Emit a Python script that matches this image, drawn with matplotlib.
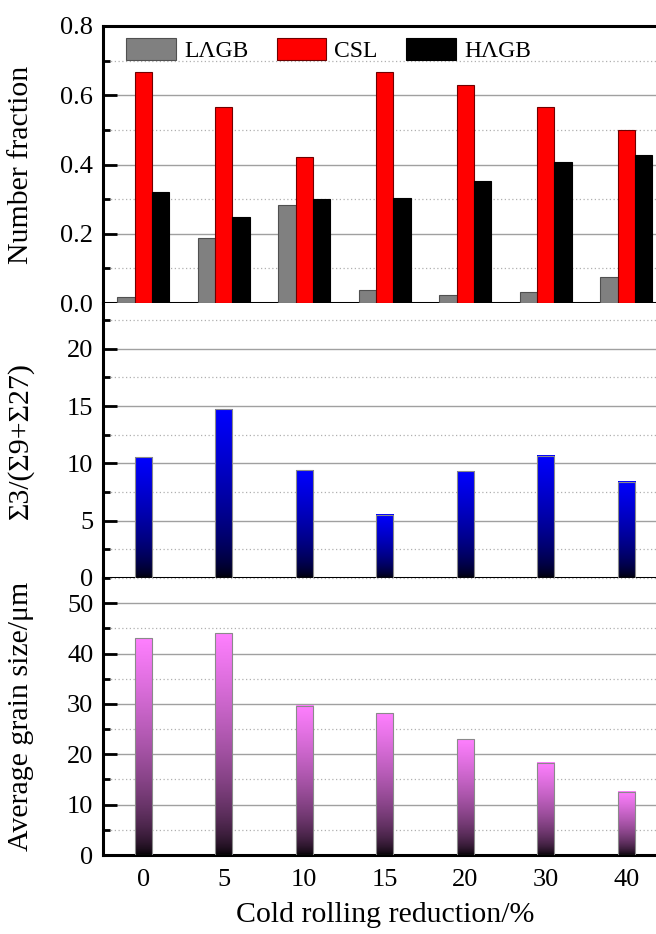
import numpy as np
import matplotlib
matplotlib.use("Agg")
import matplotlib.pyplot as plt
from matplotlib.ticker import MultipleLocator

plt.rcParams['font.family'] = ['Liberation Serif', 'DejaVu Serif']

# data
reduction = ['0', '5', '10', '15', '20', '30', '40']
lagb = [0.018, 0.188, 0.282, 0.038, 0.023, 0.031, 0.075]
csl = [0.668, 0.567, 0.423, 0.667, 0.631, 0.565, 0.500]
hagb = [0.322, 0.249, 0.300, 0.303, 0.351, 0.408, 0.428]
sigma_ratio = [10.55, 14.73, 9.41, 5.53, 9.32, 10.69, 8.38]
grain_size = [43.0, 44.0, 29.6, 28.1, 23.0, 18.3, 12.6]

x = np.arange(len(reduction))
W, H = 656, 934
fig = plt.figure(figsize=(W / 100, H / 100), dpi=100)

left = 103 / W
width = 563.5 / W


def make_ax(top_px, bot_px):
    return fig.add_axes([left, 1 - bot_px / H, width, (bot_px - top_px) / H])


ax1 = make_ax(26, 303)
ax2 = make_ax(303, 578)
ax3 = make_ax(578, 855)


def style(ax, major, minor, ylim):
    ax.set_xlim(-0.5, 6.5)
    ax.set_ylim(*ylim)
    ax.yaxis.set_major_locator(MultipleLocator(major))
    ax.yaxis.set_minor_locator(MultipleLocator(minor))
    ax.grid(which='major', axis='y', color='#a0a0a0', lw=1.0, zorder=0)
    ax.grid(which='minor', axis='y', color='#b0b0b0', lw=0.9, ls=(0, (1, 2)), zorder=0)
    ax.set_axisbelow(True)
    for s in ['left', 'bottom', 'top']:
        ax.spines[s].set_linewidth(2.2)
    ax.spines['right'].set_visible(False)
    ax.tick_params(axis='y', which='major', direction='in', length=10, width=2,
                   labelsize=19, pad=7)
    ax.tick_params(axis='y', which='minor', direction='in', length=5, width=2)
    ax.tick_params(axis='x', length=0, labelsize=19, pad=10)
    ax.set_xticks(x)
    ax.yaxis.set_label_coords(-0.122, 0.5)


style(ax1, 0.2, 0.1, (0, 0.8))
style(ax2, 5, 2.5, (0, 24))
style(ax3, 10, 5, (0, 55))
ax1.set_xticklabels([])
ax2.set_xticklabels([])
ax2.spines['top'].set_visible(False)
ax3.spines['top'].set_visible(False)
ax1.set_yticks([0, 0.2, 0.4, 0.6, 0.8])
ax1.set_yticklabels(['0.0', '0.2', '0.4', '0.6', '0.8'])
ax2.set_yticks([0, 5, 10, 15, 20])

bw = 0.217
ax1.bar(x - bw, lagb, bw, color='#808080', edgecolor='#505050', lw=0.8, label='LΛGB', zorder=3)
ax1.bar(x, csl, bw, color='#ff0000', edgecolor='#700000', lw=0.8, label='CSL', zorder=3)
ax1.bar(x + bw, hagb, bw, color='#000000', edgecolor='#000000', lw=0.8, label='HΛGB', zorder=3)
ax1.legend(loc='upper left', ncol=3, frameon=False, fontsize=17,
           handlelength=2.1, handleheight=1.1, handletextpad=0.35,
           columnspacing=1.2, borderaxespad=0.1, bbox_to_anchor=(0.02, 1.0))


def gradient_bars(ax, vals, top_rgb):
    # bar colour fades from top_rgb at the top to black at the base
    t = np.linspace(0, 1, 256) ** 0.6
    img = np.outer(t, np.array(top_rgb)).reshape(256, 1, 3)
    bars = ax.bar(x, vals, bw, color='none', edgecolor='#8a8a8a', lw=0.8, zorder=4)
    for b in bars:
        x0, w, h = b.get_x(), b.get_width(), b.get_height()
        ax.imshow(img, extent=(x0, x0 + w, 0, h), origin='lower',
                  aspect='auto', zorder=3, interpolation='bilinear')
    ax.set_xlim(-0.5, 6.5)


gradient_bars(ax2, sigma_ratio, (0.0, 0.0, 1.0))
gradient_bars(ax3, grain_size, (1.0, 0.5, 1.0))
ax2.set_ylim(0, 24)
ax3.set_ylim(0, 55)

ax1.set_ylabel('Number fraction', fontsize=21.5)
ax2.set_ylabel('Σ3/(Σ9+Σ27)', fontsize=21.5)
ax3.set_ylabel('Average grain size/μm', fontsize=21.5)
ax3.set_xticklabels(reduction)
ax3.set_xlabel('Cold rolling reduction/%', fontsize=21.5, labelpad=8)

fig.savefig('out.png', dpi=100)
